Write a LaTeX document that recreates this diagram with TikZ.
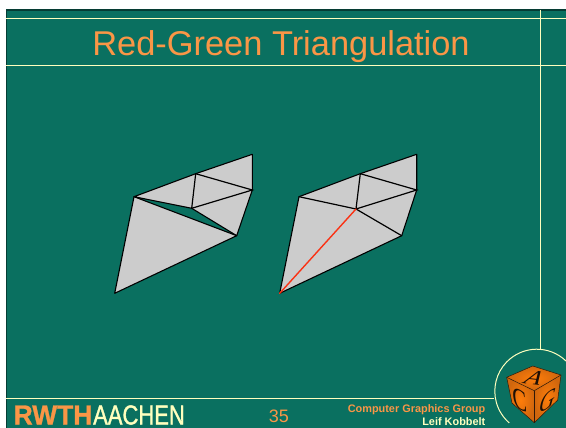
\documentclass[tikz,border=0pt]{standalone}
\usepackage{fontspec}
\setmainfont{Liberation Sans}
\newfontfamily\cubefont{Liberation Serif}
\usetikzlibrary{calc}
\definecolor{slidebg}{RGB}{10, 112, 96}
\definecolor{slideedge}{RGB}{6, 60, 52}
\definecolor{rulecream}{RGB}{255, 255, 190}
\definecolor{textorange}{RGB}{250, 150, 70}
\definecolor{meshgray}{RGB}{204, 204, 204}
\definecolor{cutred}{RGB}{250, 50, 20}
\definecolor{cubeorange}{RGB}{255, 125, 10}
\definecolor{cubedark}{RGB}{120, 60, 20}
\tikzset{
  % Slide lines
  ruleline/.style = {draw=rulecream, line width=1pt},
  % Mesh
  meshface/.style = {fill=meshgray, draw=black, line width=1.1pt, line join=round},
  meshedge/.style = {draw=black, line width=1.2pt, line cap=round},
  rededge/.style  = {draw=cutred, line width=1.4pt, line cap=round},
  % Cube
  cubeface/.style = {inner color=cubeorange, outer color=cubedark!35!cubeorange},
  cubeline/.style = {draw=black!60!cubedark, line width=0.5pt, line join=round},
  cubeletter/.style = {font=\cubefont\itshape\fontsize{31}{31}\selectfont, text=black!75!cubedark, inner sep=0pt, transform shape},
  % Texts
  footlab/.style  = {font=\bfseries\fontsize{10.9}{11}\selectfont, inner sep=0pt, anchor=base east},
  logolab/.style  = {inner sep=0pt, anchor=base west, transform shape},
}
\begin{document}
\begin{tikzpicture}[x=1pt,y=-1pt]
  \useasboundingbox (0,0) rectangle (566,428);
  \fill[white] (0,0) rectangle (566,428);
  % Slide
  \fill[slidebg] (6,10) rectangle (566,428);
  \draw[slideedge, line width=1.5pt] (6,10) -- (566,10);
  \draw[slideedge, line width=1pt] (6,10) -- (6,428);
  \draw[ruleline] (6,19) -- (566,19);
  \draw[ruleline] (6,66) -- (566,66);
  \draw[ruleline] (6,398) -- (494,398);
  \draw[ruleline] (540,10) -- (540,350);
  \draw[ruleline] (566,361) arc[start angle=-46, end angle=-229, radius=42];
  % Left mesh
  \coordinate (A1) at (252.3,154.3);
  \coordinate (B1) at (252.3,190);
  \coordinate (C1) at (236.7,235.7);
  \coordinate (D1) at (114.7,293.3);
  \coordinate (E1) at (134,196.7);
  \coordinate (F1) at (195.7,173.7);
  \coordinate (G1) at (191.7,208.3);
  \path[meshface] (E1) -- (F1) -- (A1) -- (B1) -- (C1) -- (G1) -- cycle;
  \path[meshface] (E1) -- (C1) -- (D1) -- cycle;
  \draw[meshedge] (F1) -- (G1) -- (B1) -- (F1);
  % Right mesh
  \coordinate (A2) at (416.7,154.3);
  \coordinate (B2) at (416.7,190);
  \coordinate (C2) at (401.7,235.7);
  \coordinate (D2) at (279.7,293.3);
  \coordinate (E2) at (299,196.7);
  \coordinate (F2) at (360.3,173.7);
  \coordinate (G2) at (356,209);
  \path[meshface] (E2) -- (F2) -- (A2) -- (B2) -- (C2) -- (D2) -- cycle;
  \draw[meshedge] (E2) -- (G2) -- (C2);
  \draw[meshedge] (F2) -- (G2) -- (B2) -- (F2);
  \draw[rededge] (D2) -- (G2);
  % Cube
  \coordinate (T) at (532.7,366);
  \coordinate (L) at (506.7,377.3);
  \coordinate (R) at (561,375);
  \coordinate (M) at (534.3,390.7);
  \coordinate (S) at (534.3,422.7);
  \coordinate (P) at (512,403);
  \coordinate (Q) at (557.7,400);
  \shade[cubeface] (T) -- (R) -- (M) -- (L) -- cycle;
  \shade[cubeface] (L) -- (M) -- (S) -- (P) -- cycle;
  \shade[cubeface] (M) -- (R) -- (Q) -- (S) -- cycle;
  \draw[cubeline] (T) -- (R) -- (Q) -- (S) -- (P) -- (L) -- cycle;
  \draw[cubeline] (L) -- (M) -- (R);
  \draw[cubeline] (M) -- (S);
  \begin{scope}[cm={.85,-.1,.32,.64,(534.3,378.3)}]
    \node[cubeletter] (letterA) at (0,0) {A};
  \end{scope}
  \begin{scope}[cm={.68,-.36,-.2,1.05,(520,399.3)}]
    \node[cubeletter] (letterC) at (0,0) {C};
  \end{scope}
  \begin{scope}[cm={.7,.42,.13,.88,(547.3,400.7)}]
    \node[cubeletter] (letterG) at (0,0) {G};
  \end{scope}
  % Texts
  \node[text=textorange, font=\fontsize{34.4}{36}\selectfont, inner sep=0pt] (title) at (281,47) {Red-Green Triangulation};
  \node[text=textorange, font=\fontsize{18}{18}\selectfont, inner sep=0pt] (pagenum) at (279,416.5) {35};
  \node[footlab, text=textorange] (group) at (485.5,412) {Computer Graphics Group};
  \node[footlab, text=rulecream] (author) at (485.5,425) {Leif Kobbelt};
  \node[logolab, text=textorange, font=\bfseries\addfontfeature{FakeBold=1}\fontsize{27.5}{28}\selectfont, xscale=.96] (rwth) at (13.5,424.5) {RWTH};
  \node[logolab, text=rulecream, font=\addfontfeature{FakeBold=1.5}\fontsize{27.5}{28}\selectfont, xscale=.8] (aachen) at (93,424.5) {AACHEN};
\end{tikzpicture}
\end{document}
